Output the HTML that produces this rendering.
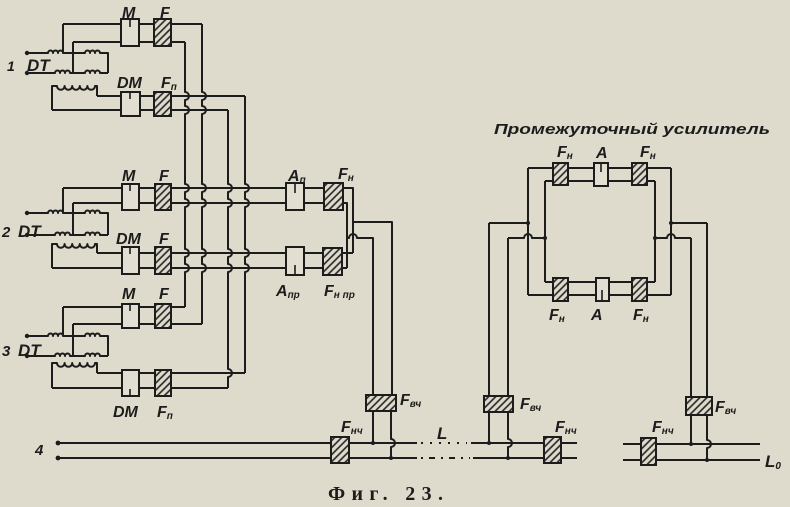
<!DOCTYPE html>
<html><head><meta charset="utf-8">
<style>
html,body{margin:0;padding:0;background:#dedbcc;}
svg{display:block}
text{font-family:"Liberation Sans","DejaVu Sans",sans-serif;font-style:italic;font-weight:bold;fill:#1c1c1c}
</style></head><body>
<svg width="790" height="507" viewBox="0 0 790 507" xmlns="http://www.w3.org/2000/svg">
<defs>
<pattern id="h" patternUnits="userSpaceOnUse" width="5" height="5" patternTransform="rotate(45)">
<line x1="1" y1="0" x2="1" y2="5" stroke="#222" stroke-width="1.6"/>
</pattern>
</defs>
<rect width="790" height="507" fill="#dedbcc"/>

<g fill="none" stroke="#1c1c1c" stroke-width="2" stroke-linejoin="round">
<path d="M185 42 V92 A4 4 0 0 1 185 100 V106 A4 4 0 0 1 185 114 V184 A4 4 0 0 1 185 192 V199 A4 4 0 0 1 185 207 V249 A4 4 0 0 1 185 257 V264 A4 4 0 0 1 185 272 V307"/>
<path d="M202 24 V92 A4 4 0 0 1 202 100 V106 A4 4 0 0 1 202 114 V184 A4 4 0 0 1 202 192 V199 A4 4 0 0 1 202 207 V249 A4 4 0 0 1 202 257 V264 A4 4 0 0 1 202 272 V324"/>
<path d="M228 110 V184 A4 4 0 0 1 228 192 V199 A4 4 0 0 1 228 207 V249 A4 4 0 0 1 228 257 V264 A4 4 0 0 1 228 272 V369 A4 4 0 0 1 228 377 V388"/>
<path d="M245 96 V184 A4 4 0 0 1 245 192 V199 A4 4 0 0 1 245 207 V249 A4 4 0 0 1 245 257 V264 A4 4 0 0 1 245 272 V373"/>

<path d="M63 24 H202"/>
<path d="M73 42 H185"/>
<path d="M97 96 H245"/>
<path d="M52 110 H228"/>
<path d="M63 24 V53"/>
<path d="M73 42 V73"/>
<path d="M27 53 H48 a2.5 2.5 0 0 1 5 0 a2.5 2.5 0 0 1 5 0 a2.5 2.5 0 0 1 5 0 H85 a2.5 2.5 0 0 1 5 0 a2.5 2.5 0 0 1 5 0 a2.5 2.5 0 0 1 5 0 H108 V73"/>
<path d="M27 73 H55 a2.5 2.5 0 0 1 5 0 a2.5 2.5 0 0 1 5 0 a2.5 2.5 0 0 1 5 0 H85 a2.5 2.5 0 0 1 5 0 a2.5 2.5 0 0 1 5 0 a2.5 2.5 0 0 1 5 0 H108"/>
<path d="M52 110 V86 H57 a3.8 3.8 0 0 0 7.6 0 a3.8 3.8 0 0 0 7.6 0 a3.8 3.8 0 0 0 7.6 0 a3.8 3.8 0 0 0 7.6 0 a3.8 3.8 0 0 0 7.6 0 H97 V96"/>

<path d="M63 188 H353 V253"/>
<path d="M73 203 H347 V268"/>
<path d="M97 253 H353"/>
<path d="M52 268 H347"/>
<path d="M353 222 H392 V396"/>
<path d="M347 238 H349 A4 4 0 0 1 357 238 H373 V396"/>
<path d="M63 188 V213"/>
<path d="M73 203 V235"/>
<path d="M27 213 H48 a2.5 2.5 0 0 1 5 0 a2.5 2.5 0 0 1 5 0 a2.5 2.5 0 0 1 5 0 H85 a2.5 2.5 0 0 1 5 0 a2.5 2.5 0 0 1 5 0 a2.5 2.5 0 0 1 5 0 H108 V235"/>
<path d="M27 235 H55 a2.5 2.5 0 0 1 5 0 a2.5 2.5 0 0 1 5 0 a2.5 2.5 0 0 1 5 0 H85 a2.5 2.5 0 0 1 5 0 a2.5 2.5 0 0 1 5 0 a2.5 2.5 0 0 1 5 0 H108"/>
<path d="M52 268 V244 H57 a3.8 3.8 0 0 0 7.6 0 a3.8 3.8 0 0 0 7.6 0 a3.8 3.8 0 0 0 7.6 0 a3.8 3.8 0 0 0 7.6 0 a3.8 3.8 0 0 0 7.6 0 H97 V253"/>

<path d="M63 307 H185"/>
<path d="M73 324 H202"/>
<path d="M97 373 H245"/>
<path d="M52 388 H228"/>
<path d="M63 307 V336"/>
<path d="M73 324 V356"/>
<path d="M27 336 H48 a2.5 2.5 0 0 1 5 0 a2.5 2.5 0 0 1 5 0 a2.5 2.5 0 0 1 5 0 H85 a2.5 2.5 0 0 1 5 0 a2.5 2.5 0 0 1 5 0 a2.5 2.5 0 0 1 5 0 H108 V356"/>
<path d="M27 356 H55 a2.5 2.5 0 0 1 5 0 a2.5 2.5 0 0 1 5 0 a2.5 2.5 0 0 1 5 0 H85 a2.5 2.5 0 0 1 5 0 a2.5 2.5 0 0 1 5 0 a2.5 2.5 0 0 1 5 0 H108"/>
<path d="M52 388 V363 H57 a3.8 3.8 0 0 0 7.6 0 a3.8 3.8 0 0 0 7.6 0 a3.8 3.8 0 0 0 7.6 0 a3.8 3.8 0 0 0 7.6 0 a3.8 3.8 0 0 0 7.6 0 H97 V373"/>

<path d="M58 443 H417"/>
<path d="M421 443 H467" stroke-dasharray="2 7"/>
<path d="M471 443 H577"/>
<path d="M58 458 H417"/>
<path d="M421 458 H470" stroke-dasharray="2 6 6 6"/>
<path d="M473 458 H577"/>
<path d="M623 444 H760"/>
<path d="M623 460 H760"/>

<path d="M373 411 V443"/>
<path d="M391 411 V439 A4 4 0 0 1 391 447 V458"/>
<path d="M489 412 V443"/>
<path d="M508 412 V439 A4 4 0 0 1 508 447 V458"/>
<path d="M691 415 V444"/>
<path d="M707 415 V440 A4 4 0 0 1 707 448 V460"/>

<path d="M489 223 V396"/>
<path d="M508 238 V396"/>
<path d="M707 223 V397"/>
<path d="M691 238 V397"/>
<path d="M528 168 H671"/>
<path d="M545 181 H655"/>
<path d="M528 168 V295"/>
<path d="M545 181 V282"/>
<path d="M655 181 V282"/>
<path d="M671 168 V295"/>
<path d="M545 282 H655"/>
<path d="M528 295 H671"/>
<path d="M489 223 H528"/>
<path d="M508 238 H524 A4 4 0 0 1 532 238 H545"/>
<path d="M671 223 H707"/>
<path d="M655 238 H667 A4 4 0 0 1 675 238 H691"/>
</g>

<g fill="#1c1c1c">
<circle cx="27" cy="53" r="2.2"/><circle cx="27" cy="73" r="2.2"/>
<circle cx="27" cy="213" r="2.2"/><circle cx="27" cy="235" r="2.2"/>
<circle cx="27" cy="336" r="2.2"/><circle cx="27" cy="356" r="2.2"/>
<circle cx="58" cy="443" r="2.4"/><circle cx="58" cy="458" r="2.4"/>
<circle cx="373" cy="443" r="2"/><circle cx="391" cy="458" r="2"/>
<circle cx="489" cy="443" r="2"/><circle cx="508" cy="458" r="2"/>
<circle cx="691" cy="444" r="2"/><circle cx="707" cy="460" r="2"/>
<circle cx="528" cy="223" r="2"/><circle cx="545" cy="238" r="2"/>
<circle cx="671" cy="223" r="2"/><circle cx="655" cy="238" r="2"/>
</g>

<g fill="#e2dfd2" stroke="#1c1c1c" stroke-width="2">
<rect x="121" y="19" width="18" height="27"/>
<rect x="121" y="92" width="19" height="24"/>
<rect x="122" y="184" width="17" height="26"/>
<rect x="122" y="247" width="17" height="27"/>
<rect x="122" y="304" width="17" height="24"/>
<rect x="122" y="370" width="17" height="26"/>
<rect x="286" y="183" width="18" height="27"/>
<rect x="286" y="247" width="18" height="28"/>
<rect x="594" y="163" width="14" height="23"/>
<rect x="596" y="278" width="13" height="23"/>
</g>
<g stroke="#1c1c1c" stroke-width="2">
<g fill="#dedbcc">
<rect x="154" y="19" width="17" height="27"/>
<rect x="154" y="92" width="17" height="24"/>
<rect x="155" y="184" width="16" height="26"/>
<rect x="155" y="247" width="16" height="27"/>
<rect x="155" y="304" width="16" height="24"/>
<rect x="155" y="370" width="16" height="26"/>
<rect x="324" y="183" width="19" height="27"/>
<rect x="323" y="248" width="19" height="27"/>
<rect x="366" y="395" width="30" height="16"/>
<rect x="484" y="396" width="29" height="16"/>
<rect x="686" y="397" width="26" height="18"/>
<rect x="331" y="437" width="18" height="26"/>
<rect x="544" y="437" width="17" height="26"/>
<rect x="641" y="438" width="15" height="27"/>
<rect x="553" y="163" width="15" height="22"/>
<rect x="632" y="163" width="15" height="22"/>
<rect x="553" y="278" width="15" height="23"/>
<rect x="632" y="278" width="15" height="23"/>
</g>
<g fill="url(#h)">
<rect x="154" y="19" width="17" height="27"/>
<rect x="154" y="92" width="17" height="24"/>
<rect x="155" y="184" width="16" height="26"/>
<rect x="155" y="247" width="16" height="27"/>
<rect x="155" y="304" width="16" height="24"/>
<rect x="155" y="370" width="16" height="26"/>
<rect x="324" y="183" width="19" height="27"/>
<rect x="323" y="248" width="19" height="27"/>
<rect x="366" y="395" width="30" height="16"/>
<rect x="484" y="396" width="29" height="16"/>
<rect x="686" y="397" width="26" height="18"/>
<rect x="331" y="437" width="18" height="26"/>
<rect x="544" y="437" width="17" height="26"/>
<rect x="641" y="438" width="15" height="27"/>
<rect x="553" y="163" width="15" height="22"/>
<rect x="632" y="163" width="15" height="22"/>
<rect x="553" y="278" width="15" height="23"/>
<rect x="632" y="278" width="15" height="23"/>
</g>
</g>

<g stroke="#1c1c1c" stroke-width="1.6">
<path d="M130 19 V27 M130 92 V99 M130 184 V191 M130 247 V254 M130 304 V311 M130 396 V389 M295 183 V193 M295 275 V265 M601 163 V172 M602 301 V290"/>
</g>

<g font-size="16">
<text x="122" y="18">M</text>
<text x="160" y="18">F</text>
<text x="117" y="88">DM</text>
<text x="161" y="88">F<tspan font-size="10" dy="2">п</tspan></text>
<text x="122" y="181">M</text>
<text x="159" y="181">F</text>
<text x="116" y="244">DM</text>
<text x="159" y="244">F</text>
<text x="122" y="299">M</text>
<text x="159" y="299">F</text>
<text x="113" y="417">DM</text>
<text x="157" y="417">F<tspan font-size="10" dy="2">п</tspan></text>
<text x="7" y="71" font-size="14">1</text>
<text x="27" y="71" font-size="17">DT</text>
<text x="2" y="237" font-size="15">2</text>
<text x="18" y="237" font-size="17">DT</text>
<text x="2" y="356" font-size="15">3</text>
<text x="18" y="356" font-size="17">DT</text>
<text x="288" y="181">A<tspan font-size="10" dy="2">п</tspan></text>
<text x="338" y="179">F<tspan font-size="10" dy="2">н</tspan></text>
<text x="276" y="296">A<tspan font-size="10" dy="2">пр</tspan></text>
<text x="324" y="296">F<tspan font-size="10" dy="2">н пр</tspan></text>
<text x="400" y="405">F<tspan font-size="10" dy="2">вч</tspan></text>
<text x="341" y="432">F<tspan font-size="10" dy="2">нч</tspan></text>
<text x="437" y="439" font-size="17">L</text>
<text x="520" y="409">F<tspan font-size="10" dy="2">вч</tspan></text>
<text x="555" y="432">F<tspan font-size="10" dy="2">нч</tspan></text>
<text x="652" y="432">F<tspan font-size="10" dy="2">нч</tspan></text>
<text x="715" y="412">F<tspan font-size="10" dy="2">вч</tspan></text>
<text x="765" y="467" font-size="17">L<tspan font-size="10" dy="2">0</tspan></text>
<text x="35" y="455" font-size="15">4</text>
<text x="557" y="157">F<tspan font-size="10" dy="2">н</tspan></text>
<text x="596" y="158">A</text>
<text x="640" y="157">F<tspan font-size="10" dy="2">н</tspan></text>
<text x="549" y="320">F<tspan font-size="10" dy="2">н</tspan></text>
<text x="591" y="320">A</text>
<text x="633" y="320">F<tspan font-size="10" dy="2">н</tspan></text>
</g>
<text x="494" y="134" font-size="15" textLength="276" lengthAdjust="spacingAndGlyphs">Промежуточный усилитель</text>
<text x="328" y="500" font-size="20" textLength="115" lengthAdjust="spacing" style="font-family:'Liberation Serif','DejaVu Serif',serif;font-style:normal;font-weight:bold">Фиг. 23.</text>
</svg>
</body></html>
